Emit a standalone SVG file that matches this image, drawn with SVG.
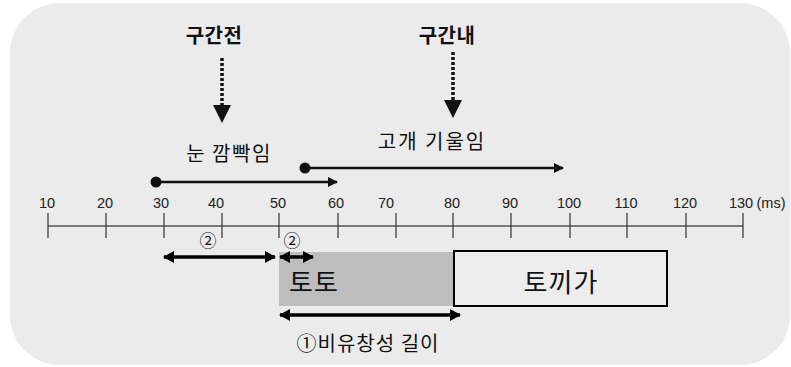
<svg xmlns="http://www.w3.org/2000/svg" width="791" height="367" viewBox="0 0 791 367">
<defs>
<style>
.t{font-family:"Noto Sans CJK KR","Liberation Sans",sans-serif;fill:#111}
.n{font-family:"Liberation Sans",sans-serif;font-size:14.5px;fill:#222;text-anchor:middle}
.tick{stroke:#333;stroke-width:1.2}
.ln{stroke:#111;stroke-width:2.5;fill:none}
.dbl{stroke:#000;stroke-width:3.5;fill:none}
</style>
<marker id="ah" markerWidth="10" markerHeight="10" refX="9" refY="5" orient="auto" markerUnits="userSpaceOnUse"><path d="M0,0 L10,5 L0,10 Z" fill="#111"/></marker>
<marker id="dh" markerWidth="11" markerHeight="12" refX="10" refY="6" orient="auto-start-reverse" markerUnits="userSpaceOnUse"><path d="M0,0 L11,6 L0,12 Z" fill="#000"/></marker>
</defs>
<rect x="0" y="0" width="791" height="367" fill="#fff"/>
<rect id="bg" x="10" y="3" width="780" height="362" rx="50" ry="50" fill="#ebebeb"/>

<g id="axis">
<line x1="48" y1="226" x2="743" y2="226" stroke="#555" stroke-width="1.5"/>
<g class="tick">
<line x1="48" y1="213" x2="48" y2="238"/><line x1="106" y1="213" x2="106" y2="238"/>
<line x1="164" y1="213" x2="164" y2="238"/><line x1="222" y1="213" x2="222" y2="238"/>
<line x1="279" y1="213" x2="279" y2="238"/><line x1="338" y1="213" x2="338" y2="238"/>
<line x1="396" y1="213" x2="396" y2="238"/><line x1="453" y1="213" x2="453" y2="238"/>
<line x1="511" y1="213" x2="511" y2="238"/><line x1="570" y1="213" x2="570" y2="238"/>
<line x1="627" y1="213" x2="627" y2="238"/><line x1="686" y1="213" x2="686" y2="238"/>
<line x1="743" y1="213" x2="743" y2="238"/>
</g>
<text class="n" x="47" y="208">10</text><text class="n" x="105" y="208">20</text>
<text class="n" x="161" y="208">30</text><text class="n" x="216" y="208">40</text>
<text class="n" x="278" y="208">50</text><text class="n" x="336" y="208">60</text>
<text class="n" x="386" y="208">70</text><text class="n" x="452" y="208">80</text>
<text class="n" x="510" y="208">90</text><text class="n" x="569" y="208">100</text>
<text class="n" x="626" y="208">110</text><text class="n" x="685" y="208">120</text>
<text class="n" x="741" y="208">130</text>
<text class="n" x="771" y="208">(ms)</text>
</g>

<g id="label-before">
<text class="t" x="214" y="43" font-size="20" font-weight="bold" letter-spacing="0.5" text-anchor="middle">구간전</text>
</g>
<g id="label-within">
<text class="t" x="447" y="43" font-size="20" font-weight="bold" letter-spacing="0.5" text-anchor="middle">구간내</text>
</g>
<g id="blink">
<text class="t" x="229" y="161" font-size="20" letter-spacing="1.5" text-anchor="middle">눈 깜빡임</text>
</g>
<g id="tilt">
<text class="t" x="432" y="149" font-size="20" letter-spacing="2" text-anchor="middle">고개 기울임</text>
</g>
<g id="toto">
<rect x="279" y="252" width="174" height="54" fill="#bdbdbd"/>
<text class="t" x="289" y="292" font-size="26" letter-spacing="1">토토</text>
</g>
<g id="tokkiga">
<rect x="454" y="251" width="213" height="55" fill="#ededed" stroke="#000" stroke-width="2"/>
<text class="t" x="561" y="292" font-size="26" letter-spacing="1" text-anchor="middle">토끼가</text>
</g>
<g id="label-disfluency">
<text class="t" x="368" y="351" font-size="20" letter-spacing="1" text-anchor="middle">①비유창성 길이</text>
</g>
<g id="label-2a"><text class="t" x="208" y="247" font-size="17" text-anchor="middle">②</text></g>
<g id="label-2b"><text class="t" x="292" y="247" font-size="17" text-anchor="middle">②</text></g>

<g id="connectors">
<line x1="222" y1="58" x2="222" y2="106" stroke="#111" stroke-width="3.5" stroke-dasharray="3,2"/>
<path d="M213,105 L231,105 L222,123 Z" fill="#111"/>
<line x1="453" y1="52" x2="453" y2="101" stroke="#111" stroke-width="3.5" stroke-dasharray="3,2"/>
<path d="M444,100 L462,100 L453,118 Z" fill="#111"/>
<circle cx="156" cy="182" r="5.5" fill="#111"/>
<line class="ln" x1="156" y1="182" x2="337" y2="182" marker-end="url(#ah)"/>
<circle cx="305" cy="168" r="5.5" fill="#111"/>
<line class="ln" x1="305" y1="168" x2="563" y2="168" marker-end="url(#ah)"/>
<line class="dbl" x1="164" y1="257" x2="275" y2="257" marker-start="url(#dh)" marker-end="url(#dh)"/>
<line class="dbl" x1="280" y1="257" x2="313" y2="257" marker-start="url(#dh)" marker-end="url(#dh)"/>
<line class="dbl" x1="280" y1="315" x2="460" y2="315" marker-start="url(#dh)" marker-end="url(#dh)"/>
</g>
</svg>
